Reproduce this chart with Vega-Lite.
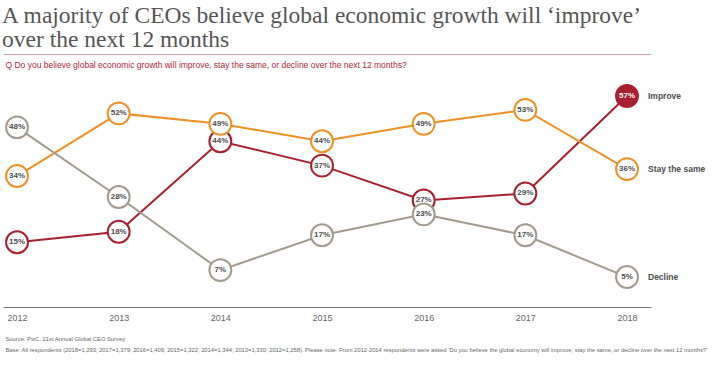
{
  "$schema": "https://vega.github.io/schema/vega-lite/v6.json",
  "autosize": {"type": "none"},
  "width": 648,
  "height": 253,
  "padding": {"left": 3, "top": 54, "right": 68, "bottom": 65},
  "background": "white",
  "config": {"view": {"stroke": null}},
  "title": {
    "text": ["A majority of CEOs believe global economic growth will ‘improve’", "over the next 12 months"],
    "anchor": "start",
    "font": "Liberation Serif",
    "fontSize": 23.5,
    "fontWeight": "normal",
    "lineHeight": 24,
    "color": "#555555",
    "offset": 3
  },
  "data": {"values": [
    {"year": 2012, "series": "Improve", "value": 15},
    {"year": 2013, "series": "Improve", "value": 18},
    {"year": 2014, "series": "Improve", "value": 44},
    {"year": 2015, "series": "Improve", "value": 37},
    {"year": 2016, "series": "Improve", "value": 27},
    {"year": 2017, "series": "Improve", "value": 29},
    {"year": 2018, "series": "Improve", "value": 57},
    {"year": 2012, "series": "Stay the same", "value": 34},
    {"year": 2013, "series": "Stay the same", "value": 52},
    {"year": 2014, "series": "Stay the same", "value": 49},
    {"year": 2015, "series": "Stay the same", "value": 44},
    {"year": 2016, "series": "Stay the same", "value": 49},
    {"year": 2017, "series": "Stay the same", "value": 53},
    {"year": 2018, "series": "Stay the same", "value": 36},
    {"year": 2012, "series": "Decline", "value": 48},
    {"year": 2013, "series": "Decline", "value": 28},
    {"year": 2014, "series": "Decline", "value": 7},
    {"year": 2015, "series": "Decline", "value": 17},
    {"year": 2016, "series": "Decline", "value": 23},
    {"year": 2017, "series": "Decline", "value": 17},
    {"year": 2018, "series": "Decline", "value": 5}
  ]},
  "resolve": {"axis": {"x": "independent"}},
  "layer": [
    {
      "mark": {"type": "line", "strokeWidth": 2},
      "encoding": {
        "x": {
          "field": "year", "type": "quantitative",
          "scale": {"domain": [2011.862, 2018.236], "nice": false, "zero": false},
          "axis": {
            "orient": "bottom",
            "values": [2012, 2013, 2014, 2015, 2016, 2017, 2018],
            "format": "d",
            "grid": false,
            "ticks": false,
            "domainColor": "#777777",
            "domainWidth": 1,
            "labelFont": "Liberation Sans",
            "labelFontSize": 9,
            "labelColor": "#666666",
            "labelPadding": 6,
            "title": ["Source: PwC, 21st Annual Global CEO Survey", "Base: All respondents (2018=1,293; 2017=1,379; 2016=1,409; 2015=1,322; 2014=1,344; 2013=1,330; 2012=1,258). Please note: From 2012-2014 respondents were asked ‘Do you believe the global economy will improve, stay the same, or decline over the next 12 months?’"],
            "titleFont": "Liberation Sans",
            "titleFontSize": 5.8,
            "titleFontWeight": "normal",
            "titleColor": "#666666",
            "titleAnchor": "start",
            "titleAlign": "left",
            "titleBaseline": "alphabetic",
            "titleX": 2,
            "titleY": 33,
            "titleLineHeight": 11
          }
        },
        "y": {
          "field": "value", "type": "quantitative",
          "scale": {"domain": [-3.6, 69.06], "nice": false, "zero": false},
          "axis": null
        },
        "color": {
          "field": "series", "type": "nominal",
          "scale": {"domain": ["Improve", "Stay the same", "Decline"], "range": ["#a8202f", "#ef8f24", "#a39a8e"]},
          "legend": null
        },
        "detail": {"field": "series"}
      }
    },
    {
      "mark": {"type": "point", "shape": "circle", "filled": false, "strokeWidth": 2, "size": 480, "opacity": 1},
      "encoding": {
        "x": {
          "field": "year", "type": "quantitative",
          "axis": {
            "orient": "top",
            "labels": false,
            "ticks": false,
            "grid": false,
            "domain": true,
            "domainColor": "#d8a0a6",
            "domainWidth": 1,
            "title": "Q  Do you believe global economic growth will improve, stay the same, or decline over the next 12 months?",
            "titleFont": "Liberation Sans",
            "titleFontSize": 8.5,
            "titleFontWeight": "normal",
            "titleColor": "#b0263a",
            "titleAnchor": "start",
            "titleAlign": "left",
            "titleBaseline": "alphabetic",
            "titleX": 2,
            "titleY": 13
          }
        },
        "y": {"field": "value", "type": "quantitative", "axis": null},
        "color": {"field": "series", "type": "nominal", "legend": null},
        "fill": {
          "condition": {"test": "datum.series === 'Improve' && datum.year === 2018", "value": "#a8202f"},
          "value": "white"
        },
        "fillOpacity": {"value": 1}
      }
    },
    {
      "transform": [{"calculate": "datum.value + '%'", "as": "label"}],
      "mark": {"type": "text", "font": "Liberation Sans", "fontSize": 8, "fontWeight": "bold", "baseline": "middle", "align": "center"},
      "encoding": {
        "x": {"field": "year", "type": "quantitative", "axis": null},
        "y": {"field": "value", "type": "quantitative", "axis": null},
        "text": {"field": "label", "type": "nominal"},
        "color": {
          "condition": {"test": "datum.series === 'Improve' && datum.year === 2018", "value": "white"},
          "value": "#4d4d4d"
        }
      }
    },
    {
      "transform": [{"filter": "datum.year === 2018"}],
      "mark": {"type": "text", "font": "Liberation Sans", "fontSize": 8.5, "fontWeight": "bold", "baseline": "middle", "align": "left", "dx": 21, "color": "#4d4d4d"},
      "encoding": {
        "x": {"field": "year", "type": "quantitative", "axis": null},
        "y": {"field": "value", "type": "quantitative", "axis": null},
        "text": {"field": "series"}
      }
    }
  ]
}
